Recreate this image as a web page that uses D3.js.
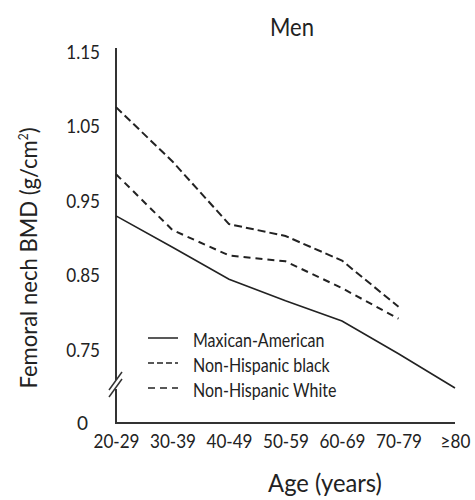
<!DOCTYPE html>
<html>
<head>
<meta charset="utf-8">
<script src="https://cdn.jsdelivr.net/npm/d3@7"></script>
<style>
  body { margin: 0; background: #fff; }
  text { font-family: Lato, "DejaVu Sans Condensed", sans-serif; fill: #222; }
</style>
</head>
<body>
<div id="chart"></div>
<script>
const ageGroups = ["20-29", "30-39", "40-49", "50-59", "60-69", "70-79", "\u226580"];
const mexicanAmerican = [0.930, 0.888, 0.845, 0.816, 0.789, 0.745, 0.699];
const nonHispanicBlack = [1.076, 1.003, 0.919, 0.903, 0.870, 0.808, null];
const nonHispanicWhite = [0.986, 0.911, 0.877, 0.869, 0.833, 0.792, null];
const yTicks = [0.75, 0.85, 0.95, 1.05, 1.15];

const width = 475, height = 500;
const svg = d3.select("#chart").append("svg").attr("width", width).attr("height", height);

// squeeze text horizontally (the original uses a narrow face)
const condense = (sel, f) => {
  sel.each(function () {
    const len = this.getComputedTextLength();
    d3.select(this).attr("textLength", len * f).attr("lengthAdjust", "spacingAndGlyphs");
  });
};

// scales
const x = d3.scalePoint().domain(ageGroups).range([116, 455]);
const y = d3.scaleLinear().domain([0.75, 1.15]).range([350, 52]);
const yBase = 423;
const axisX = 116;

// title
svg.append("text").attr("x", 292).attr("y", 36).attr("text-anchor", "middle")
  .style("font-size", "25px").text("Men").call(condense, 0.88);

// y axis line with break
svg.append("line").attr("x1", axisX).attr("x2", axisX).attr("y1", 48).attr("y2", 380)
  .attr("stroke", "#333").attr("stroke-width", 2);
svg.append("line").attr("x1", axisX).attr("x2", axisX).attr("y1", 389).attr("y2", yBase + 1)
  .attr("stroke", "#333").attr("stroke-width", 2);
[0, 7].forEach((off) => {
  svg.append("line")
    .attr("x1", axisX - 7).attr("y1", 390 + off)
    .attr("x2", axisX + 6).attr("y2", 372 + off)
    .attr("stroke", "#333").attr("stroke-width", 1.5);
});

// x axis line
svg.append("line").attr("x1", axisX).attr("x2", 455).attr("y1", yBase).attr("y2", yBase)
  .attr("stroke", "#333").attr("stroke-width", 2);

// y ticks
const yAxis = d3.axisLeft(y).tickValues(yTicks).tickSize(0).tickPadding(16).tickFormat(d3.format(".2f"));
const yG = svg.append("g").attr("transform", `translate(${axisX},0)`).call(yAxis);
yG.select(".domain").remove();
yG.selectAll("text").style("font-size", "19px").attr("fill", "#222").call(condense, 0.9);
svg.append("text").attr("x", 88).attr("y", yBase).attr("dy", "0.35em").attr("text-anchor", "end")
  .style("font-size", "19px").text("0");

// x ticks
const xAxis = d3.axisBottom(x).tickSize(0).tickPadding(12);
const xG = svg.append("g").attr("transform", `translate(0,${yBase})`).call(xAxis);
xG.select(".domain").remove();
xG.selectAll("text").style("font-size", "19px").attr("fill", "#222").call(condense, 0.9);

// axis titles
svg.append("text").attr("x", 325).attr("y", 492).attr("text-anchor", "middle")
  .style("font-size", "25px").text("Age (years)").call(condense, 0.95);
const yTitle = svg.append("text").attr("transform", "translate(37,258) rotate(-90)")
  .attr("text-anchor", "middle").style("font-size", "24px");
yTitle.append("tspan").text("Femoral nech BMD (g/cm");
yTitle.append("tspan").attr("dy", -9).style("font-size", "13px").text("2");
yTitle.append("tspan").attr("dy", 9).text(")");
yTitle.call(condense, 0.92);

// lines
const series = [
  { name: "Maxican-American", values: mexicanAmerican, dash: null, legDash: null, w: 1.6 },
  { name: "Non-Hispanic black", values: nonHispanicBlack, dash: "8,4", legDash: "6,3", w: 2 },
  { name: "Non-Hispanic White", values: nonHispanicWhite, dash: "7,5", legDash: "7,5", w: 2 },
];
const line = d3.line()
  .defined((d) => d.v != null)
  .x((d) => x(d.k))
  .y((d) => y(d.v));

series.forEach((s) => {
  const pts = ageGroups.map((k, i) => ({ k: k, v: s.values[i] }));
  svg.append("path").datum(pts)
    .attr("fill", "none").attr("stroke", "#222").attr("stroke-width", s.w)
    .attr("stroke-dasharray", s.dash).attr("d", line);
});

// legend
const leg = svg.append("g");
series.forEach((s, i) => {
  const ly = 338 + i * 25;
  leg.append("line").attr("x1", 148).attr("x2", 178).attr("y1", ly).attr("y2", ly)
    .attr("stroke", "#222").attr("stroke-width", 1.5).attr("stroke-dasharray", s.legDash);
  leg.append("text").attr("x", 193).attr("y", ly + 9).style("font-size", "20px").text(s.name)
    .call(condense, 0.8);
});
</script>
</body>
</html>
